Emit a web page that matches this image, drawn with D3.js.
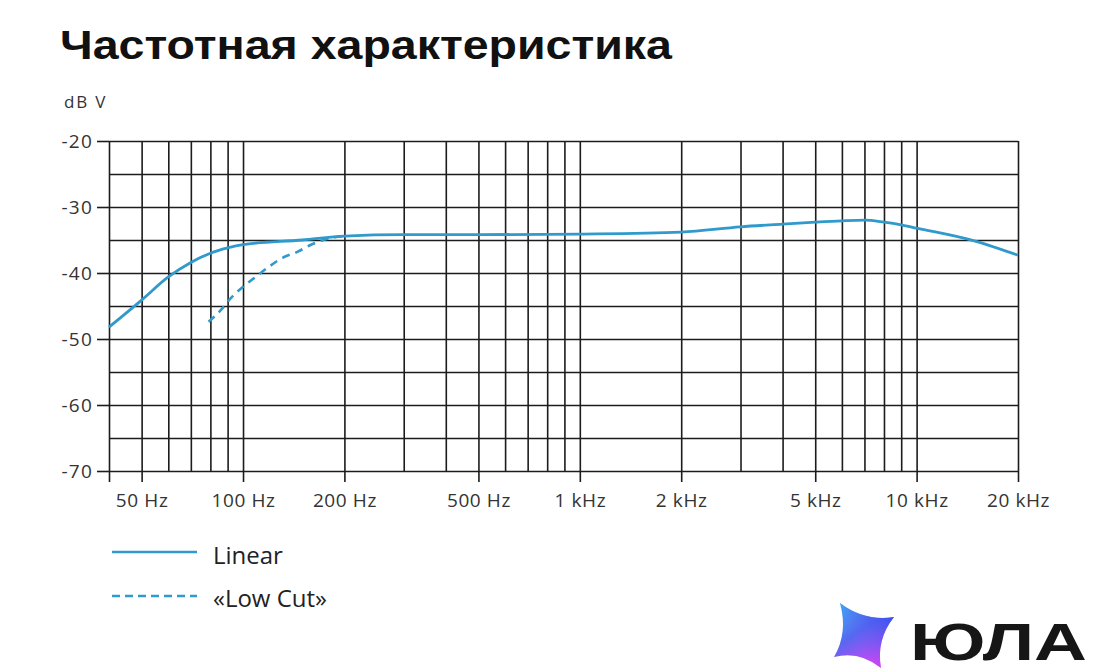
<!DOCTYPE html>
<html>
<head>
<meta charset="utf-8">
<script src="https://cdn.jsdelivr.net/npm/d3@7"></script>
<style>
  html, body { margin: 0; padding: 0; background: #ffffff; }
  svg { display: block; }
</style>
</head>
<body>
<svg id="chart" width="1100" height="672"></svg>
<script>
// ---------- data ----------
const titleText = "Частотная характеристика";
const yUnit = "dB V";
const gridFreqs = [40, 50, 60, 70, 80, 90, 100, 200, 300, 400, 500, 600, 700, 800, 900,
                   1000, 2000, 3000, 4000, 5000, 6000, 7000, 8000, 9000, 10000, 20000];
const labelFreqs = [40, 50, 100, 200, 500, 1000, 2000, 5000, 10000, 20000];
const labelTexts = ["", "50 Hz", "100 Hz", "200 Hz", "500 Hz", "1 kHz", "2 kHz", "5 kHz", "10 kHz", "20 kHz"];
const gridDb = [-20, -25, -30, -35, -40, -45, -50, -55, -60, -65, -70];
const labelDb = [-20, -30, -40, -50, -60, -70];

const freqLinear = [40, 50, 60, 70, 80, 90, 100, 150, 200, 300, 500, 1000, 2000, 3000, 4000,
                    5000, 6000, 7000, 8000, 9000, 10000, 15000, 20000];
const dbLinear = [-48.2, -44.1, -40.6, -38.4, -37.0, -36.2, -35.7, -35.0, -34.4, -34.2, -34.2,
                  -34.1, -33.8, -33.0, -32.6, -32.3, -32.1, -32.0, -32.3, -32.7, -33.2, -35.2, -37.3];

const freqLowCut = [79, 86, 92, 100, 109, 119, 131, 145, 158, 173, 200];
const dbLowCut = [-47.4, -45.6, -43.8, -42.1, -40.6, -39.1, -37.7, -36.8, -35.8, -35.0, -34.4];

const legendLabels = ["Linear", "«Low Cut»"];
const logoText = "ЮЛА";

// ---------- setup ----------
const svg = d3.select("#chart");
const lineColor = "#2f9acb";
const gridColor = "#1c1c1c";
const textColor = "#333333";
const fontFam = "'Open Sans', 'Noto Sans', sans-serif";

const x = d3.scaleLog().domain([40, 20000]).range([109, 1018]);
const y = d3.scaleLinear().domain([-70, -20]).range([471, 141]);

// title
svg.append("text")
  .attr("x", 60).attr("y", 59)
  .attr("font-family", "'Liberation Sans', Arial, sans-serif")
  .attr("font-weight", "bold")
  .attr("font-size", 41)
  .attr("fill", "#111")
  .attr("textLength", 612)
  .attr("lengthAdjust", "spacingAndGlyphs")
  .text(titleText);

// unit
svg.append("text")
  .attr("x", 64).attr("y", 108)
  .attr("font-family", fontFam)
  .attr("font-size", 17)
  .attr("letter-spacing", 1.8)
  .attr("fill", textColor)
  .text(yUnit);

// vertical grid
const gx = svg.append("g").attr("transform", `translate(0,${y(-70)})`)
  .call(d3.axisBottom(x).tickValues(gridFreqs).tickSize(-(y(-70) - y(-20))).tickFormat(""));
gx.select(".domain").remove();
gx.selectAll(".tick line").attr("stroke", gridColor).attr("stroke-width", 1.6);

// horizontal grid
const gy = svg.append("g").attr("transform", `translate(${x(40)},0)`)
  .call(d3.axisLeft(y).tickValues(gridDb).tickSize(-(x(20000) - x(40))).tickFormat(""));
gy.select(".domain").remove();
gy.selectAll(".tick line").attr("stroke", gridColor).attr("stroke-width", 1.6);

// x labelled axis
const ax = svg.append("g").attr("transform", `translate(0,${y(-70)})`)
  .call(d3.axisBottom(x).tickValues(labelFreqs).tickSize(11).tickPadding(12)
    .tickFormat(d => labelTexts[labelFreqs.indexOf(d)]));
ax.select(".domain").remove();
ax.selectAll(".tick line").attr("stroke", gridColor).attr("stroke-width", 1.6);
ax.selectAll(".tick text")
  .attr("font-family", fontFam).attr("font-size", 19).attr("fill", textColor)
  .attr("letter-spacing", 0.6);

// y labelled axis
const ay = svg.append("g").attr("transform", `translate(${x(40)},0)`)
  .call(d3.axisLeft(y).tickValues(labelDb).tickSize(12).tickPadding(4)
    .tickFormat(d => String(d)));
ay.select(".domain").remove();
ay.selectAll(".tick line").attr("stroke", gridColor).attr("stroke-width", 1.6);
ay.selectAll(".tick text")
  .attr("font-family", fontFam).attr("font-size", 19).attr("fill", textColor)
  .attr("letter-spacing", 1.2);

// curves
const line = d3.line().x(d => x(d[0])).y(d => y(d[1])).curve(d3.curveMonotoneX);
const linData = freqLinear.map((f, i) => [f, dbLinear[i]]);
const lcData = freqLowCut.map((f, i) => [f, dbLowCut[i]]);

svg.append("path").datum(lcData).attr("d", line)
  .attr("fill", "none").attr("stroke", lineColor).attr("stroke-width", 2.6)
  .attr("stroke-dasharray", "8,6");
svg.append("path").datum(linData).attr("d", line)
  .attr("fill", "none").attr("stroke", lineColor).attr("stroke-width", 2.8);

// legend
const lg = svg.append("g");
lg.append("line").attr("x1", 112).attr("x2", 197).attr("y1", 552).attr("y2", 552)
  .attr("stroke", lineColor).attr("stroke-width", 2.6);
lg.append("line").attr("x1", 112).attr("x2", 197).attr("y1", 596).attr("y2", 596)
  .attr("stroke", lineColor).attr("stroke-width", 2.6).attr("stroke-dasharray", "8,5");
lg.append("text").attr("x", 213).attr("y", 564).attr("font-family", fontFam)
  .attr("font-size", 24).attr("fill", "#222").text(legendLabels[0]);
lg.append("text").attr("x", 213).attr("y", 607).attr("font-family", fontFam)
  .attr("font-size", 24).attr("fill", "#222").text(legendLabels[1]);

// logo
const defs = svg.append("defs");
const grad = defs.append("linearGradient").attr("id", "lg1")
  .attr("x1", "0%").attr("y1", "0%").attr("x2", "60%").attr("y2", "100%");
grad.append("stop").attr("offset", "0%").attr("stop-color", "#27d8f6");
grad.append("stop").attr("offset", "50%").attr("stop-color", "#4b6cf0");
grad.append("stop").attr("offset", "100%").attr("stop-color", "#e63ef5");
const grad2 = defs.append("linearGradient").attr("id", "lg2")
  .attr("x1", "100%").attr("y1", "20%").attr("x2", "0%").attr("y2", "100%");
grad2.append("stop").attr("offset", "0%").attr("stop-color", "#2f50ee").attr("stop-opacity", 0.9);
grad2.append("stop").attr("offset", "60%").attr("stop-color", "#7a5cf2").attr("stop-opacity", 0.2);
grad2.append("stop").attr("offset", "100%").attr("stop-color", "#e040fb").attr("stop-opacity", 0);

const pts = [[840, 603], [894, 617], [881, 668], [834, 657]];
const cx = 862, cy = 636;
const p = d3.path();
p.moveTo(pts[0][0], pts[0][1]);
for (let i = 0; i < 4; i++) {
  const a = pts[i], b = pts[(i + 1) % 4];
  const mx = (a[0] + b[0]) / 2, my = (a[1] + b[1]) / 2;
  const qx = mx + (cx - mx) * 0.45, qy = my + (cy - my) * 0.45;
  p.quadraticCurveTo(qx, qy, b[0], b[1]);
}
p.closePath();
svg.append("path").attr("d", p.toString()).attr("fill", "url(#lg1)");
svg.append("path").attr("d", p.toString()).attr("fill", "url(#lg2)");

svg.append("text").attr("x", 910).attr("y", 660)
  .attr("font-family", "'Liberation Sans', sans-serif").attr("font-weight", "bold")
  .attr("font-size", 52).attr("fill", "#161616")
  .attr("textLength", 177).attr("lengthAdjust", "spacingAndGlyphs")
  .text(logoText);
</script>
</body>
</html>
